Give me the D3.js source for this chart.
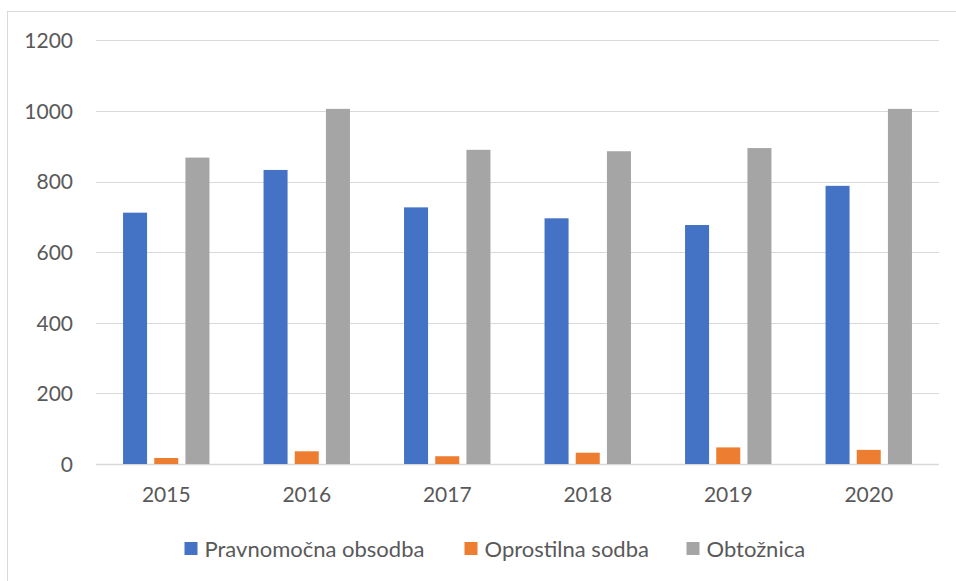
<!DOCTYPE html>
<html>
<head>
<meta charset="utf-8">
<script src="https://cdn.jsdelivr.net/npm/d3@7"></script>
<style>
  body { margin: 0; background: #fff; }
  text { font-family: Lato, "Open Sans", sans-serif; fill: #595959; }
</style>
</head>
<body>
<div id="chart"></div>
<script>
// data
var years = ["2015", "2016", "2017", "2018", "2019", "2020"];
var series = ["Pravnomočna obsodba", "Oprostilna sodba", "Obtožnica"];
var pravnomocna = [712, 833, 727, 696, 677, 788];
var oprostilna = [17, 36, 22, 32, 47, 40];
var obtoznica = [868, 1006, 890, 886, 895, 1006];
var yTicks = [0, 200, 400, 600, 800, 1000, 1200];
var colors = ["#4472C4", "#ED7D31", "#A5A5A5"];

var values = [pravnomocna, oprostilna, obtoznica];
var rows = years.map(function (y, i) {
    return { year: y, vals: series.map(function (s, j) { return { key: s, value: values[j][i] }; }) };
});

var W = 956, H = 581;
var svg = d3.select("#chart").append("svg")
    .attr("width", W)
    .attr("height", H);

// outer chart border
svg.append("rect")
    .attr("x", 7.5).attr("y", 11.5)
    .attr("width", 960).attr("height", 600)
    .attr("fill", "none")
    .attr("stroke", "#D9D9D9")
    .attr("stroke-width", 1);

var x0 = d3.scaleBand().domain(years).range([96, 939]).paddingInner(0.385).paddingOuter(0.1925);
var x1 = d3.scaleBand().domain(series).range([0, x0.bandwidth()]).paddingInner(0.23);
var y = d3.scaleLinear().domain([0, 1200]).range([464, 40.4]);
var color = d3.scaleOrdinal().domain(series).range(colors);

// gridlines
svg.append("g")
    .selectAll("line")
    .data(yTicks)
    .enter()
    .append("line")
    .attr("x1", 96).attr("x2", 939)
    .attr("y1", function (d) { return Math.round(y(d)) + 0.5; })
    .attr("y2", function (d) { return Math.round(y(d)) + 0.5; })
    .attr("stroke", "#D9D9D9")
    .attr("stroke-width", function (d) { return d === 0 ? 1.5 : 1; });

// y axis labels
var yAxis = d3.axisLeft(y).tickValues(yTicks).tickFormat(d3.format("d")).tickSize(0).tickPadding(0);
svg.append("g")
    .attr("transform", "translate(73,0)")
    .call(yAxis)
    .call(function (g) { g.select(".domain").remove(); })
    .selectAll("text")
    .attr("font-size", 21)
    .attr("dy", "0.35em");

// x axis labels
var xAxis = d3.axisBottom(x0).tickSize(0).tickPadding(0);
svg.append("g")
    .attr("transform", "translate(0,495)")
    .call(xAxis)
    .call(function (g) { g.select(".domain").remove(); })
    .selectAll("text")
    .attr("font-size", 21)
    .attr("dy", "0.35em");

// bars
var groups = svg.append("g")
    .selectAll("g")
    .data(rows)
    .enter()
    .append("g")
    .attr("transform", function (d) { return "translate(" + x0(d.year) + ",0)"; });

groups.selectAll("rect")
    .data(function (d) { return d.vals; })
    .enter()
    .append("rect")
    .attr("x", function (d) { return x1(d.key); })
    .attr("y", function (d) { return y(d.value); })
    .attr("width", x1.bandwidth())
    .attr("height", function (d) { return y(0) - y(d.value); })
    .attr("fill", function (d) { return color(d.key); });

// legend
var legendX = [184.5, 464.5, 686.5];
var legend = svg.append("g")
    .selectAll("g")
    .data(series)
    .enter()
    .append("g")
    .attr("transform", function (d, i) { return "translate(" + legendX[i] + ",549)"; });

legend.append("rect")
    .attr("x", 0).attr("y", -7)
    .attr("width", 13).attr("height", 13)
    .attr("fill", function (d) { return color(d); });

legend.append("text")
    .attr("x", 20)
    .attr("dy", "0.35em")
    .attr("font-size", 22)
    .text(function (d) { return d; });
</script>
</body>
</html>
